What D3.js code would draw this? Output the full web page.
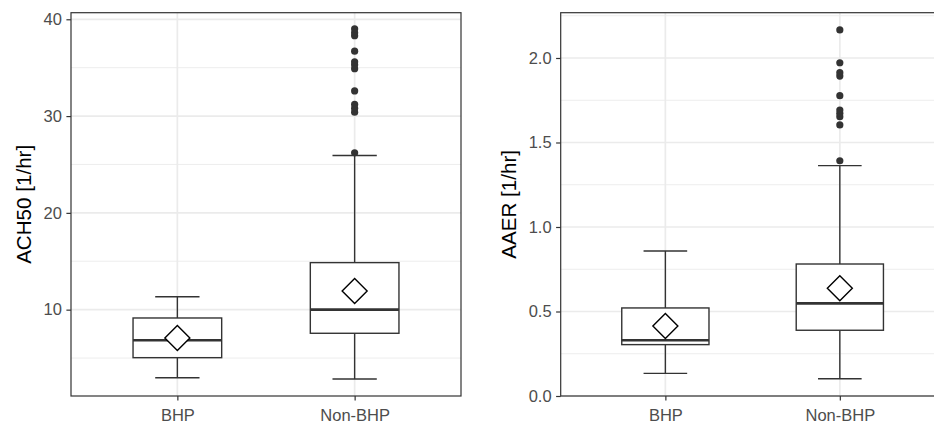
<!DOCTYPE html>
<html>
<head>
<meta charset="utf-8">
<script src="https://cdn.jsdelivr.net/npm/d3@7/dist/d3.min.js"></script>
<style>
  html, body { margin: 0; padding: 0; background: #ffffff; }
  svg { display: block; }
</style>
</head>
<body>
<div id="chart"></div>
<script>
// ---------- data ----------
const categories = ["BHP", "Non-BHP"];

const ach50Lower    = [2.97, 2.83];
const ach50Q1       = [5.04, 7.56];
const ach50Median   = [6.84, 10.0];
const ach50Q3       = [9.14, 14.86];
const ach50Upper    = [11.34, 25.93];
const ach50Mean     = [7.07, 11.93];
const ach50Outliers = [[], [26.2, 30.4, 30.8, 31.2, 32.6, 34.9, 35.3, 35.6, 36.7, 38.3, 38.6, 39.0]];
const ach50Ticks    = [10, 20, 30, 40];
const ach50Minor    = [5, 15, 25, 35];
const ach50Domain   = [1.08, 40.68];

const aaerLower    = [0.134, 0.102];
const aaerQ1       = [0.304, 0.389];
const aaerMedian   = [0.330, 0.548];
const aaerQ3       = [0.521, 0.781];
const aaerUpper    = [0.858, 1.363];
const aaerMean     = [0.414, 0.637];
const aaerOutliers = [[], [1.392, 1.604, 1.653, 1.673, 1.692, 1.777, 1.893, 1.913, 1.972, 2.166]];
const aaerTicks    = [0, 0.5, 1.0, 1.5, 2.0];
const aaerMinor    = [0.25, 0.75, 1.25, 1.75, 2.25];
const aaerDomain   = [0, 2.268];

// ---------- layout ----------
const W = 934, H = 423;
const FONT = "'Liberation Sans', Arial, Helvetica, sans-serif";
const svg = d3.select("#chart").append("svg")
  .attr("width", W).attr("height", H)
  .style("background", "#ffffff");

function panel(cfg) {
  const { x0, x1, y0, y1, title, titleX, ticks, minor, domain, fmt,
          lower, q1, median, q3, upper, mean, outliers } = cfg;
  const g = svg.append("g");
  const x = d3.scalePoint().domain(categories).range([x0, x1]).padding(0.6);
  const step = x.step();
  const y = d3.scaleLinear().domain(domain).range([y1, y0]);

  // grid
  const grid = g.append("g");
  grid.selectAll("line.minor").data(minor.filter(v => v >= domain[0] && v <= domain[1]))
    .join("line").attr("x1", x0).attr("x2", x1)
    .attr("y1", d => y(d)).attr("y2", d => y(d))
    .attr("stroke", "#EBEBEB").attr("stroke-width", 0.9);
  grid.selectAll("line.major").data(ticks)
    .join("line").attr("x1", x0).attr("x2", x1)
    .attr("y1", d => y(d)).attr("y2", d => y(d))
    .attr("stroke", "#EBEBEB").attr("stroke-width", 1.7);
  grid.selectAll("line.vmajor").data(categories)
    .join("line").attr("x1", d => x(d)).attr("x2", d => x(d))
    .attr("y1", y0).attr("y2", y1)
    .attr("stroke", "#EBEBEB").attr("stroke-width", 1.7);

  const stroke = "#333333";
  const boxW = 0.5 * step, capW = 0.25 * step;

  categories.forEach((c, i) => {
    const cx = x(c);
    const bg = g.append("g");
    // whiskers
    bg.append("line").attr("x1", cx).attr("x2", cx)
      .attr("y1", y(q3[i])).attr("y2", y(upper[i]))
      .attr("stroke", stroke).attr("stroke-width", 1.4);
    bg.append("line").attr("x1", cx).attr("x2", cx)
      .attr("y1", y(q1[i])).attr("y2", y(lower[i]))
      .attr("stroke", stroke).attr("stroke-width", 1.4);
    // caps
    [upper[i], lower[i]].forEach(v => {
      bg.append("line").attr("x1", cx - capW / 2).attr("x2", cx + capW / 2)
        .attr("y1", y(v)).attr("y2", y(v))
        .attr("stroke", stroke).attr("stroke-width", 1.4);
    });
    // box
    bg.append("rect").attr("x", cx - boxW / 2).attr("width", boxW)
      .attr("y", y(q3[i])).attr("height", y(q1[i]) - y(q3[i]))
      .attr("fill", "#ffffff").attr("stroke", stroke).attr("stroke-width", 1.4);
    bg.append("line").attr("x1", cx - boxW / 2).attr("x2", cx + boxW / 2)
      .attr("y1", y(median[i])).attr("y2", y(median[i]))
      .attr("stroke", stroke).attr("stroke-width", 2.7);
    // outliers
    bg.selectAll("circle").data(outliers[i]).join("circle")
      .attr("cx", cx).attr("cy", d => y(d)).attr("r", 3.6)
      .attr("fill", stroke);
    // mean diamond
    const my = y(mean[i]), r = 12.5;
    bg.append("path")
      .attr("d", `M${cx},${my - r}L${cx + r},${my}L${cx},${my + r}L${cx - r},${my}Z`)
      .attr("fill", "#ffffff").attr("stroke", "#000000").attr("stroke-width", 1.4);
  });

  // border
  g.append("rect").attr("x", x0).attr("y", y0)
    .attr("width", x1 - x0).attr("height", y1 - y0)
    .attr("fill", "none").attr("stroke", "#333333").attr("stroke-width", 1.2);

  // axes
  const ya = g.append("g").attr("transform", `translate(${x0},0)`)
    .call(d3.axisLeft(y).tickValues(ticks).tickFormat(fmt).tickSize(4.6).tickPadding(4.5));
  ya.select(".domain").remove();
  ya.selectAll(".tick line").attr("stroke", "#333333").attr("stroke-width", 1.2);
  ya.selectAll(".tick text").attr("fill", "#4D4D4D")
    .style("font-family", FONT).style("font-size", "16.5px");

  const xa = g.append("g").attr("transform", `translate(0,${y1})`)
    .call(d3.axisBottom(x).tickSize(4.6).tickPadding(8.5));
  xa.select(".domain").remove();
  xa.selectAll(".tick line").attr("stroke", "#333333").attr("stroke-width", 1.2);
  xa.selectAll(".tick text").attr("fill", "#4D4D4D")
    .style("font-family", FONT).style("font-size", "16.5px");

  g.append("text")
    .attr("transform", `translate(${titleX},${(y0 + y1) / 2}) rotate(-90)`)
    .attr("text-anchor", "middle")
    .attr("fill", "#000000")
    .style("font-family", FONT).style("font-size", "20.6px")
    .text(title);
}

panel({
  x0: 71, x1: 461, y0: 12.7, y1: 396, title: "ACH50 [1/hr]", titleX: 30.5,
  ticks: ach50Ticks, minor: ach50Minor, domain: ach50Domain, fmt: d3.format("d"),
  lower: ach50Lower, q1: ach50Q1, median: ach50Median, q3: ach50Q3,
  upper: ach50Upper, mean: ach50Mean, outliers: ach50Outliers
});

panel({
  x0: 560.7, x1: 944.5, y0: 12.7, y1: 396, title: "AAER [1/hr]", titleX: 515.5,
  ticks: aaerTicks, minor: aaerMinor, domain: aaerDomain, fmt: d3.format(".1f"),
  lower: aaerLower, q1: aaerQ1, median: aaerMedian, q3: aaerQ3,
  upper: aaerUpper, mean: aaerMean, outliers: aaerOutliers
});
</script>
</body>
</html>
